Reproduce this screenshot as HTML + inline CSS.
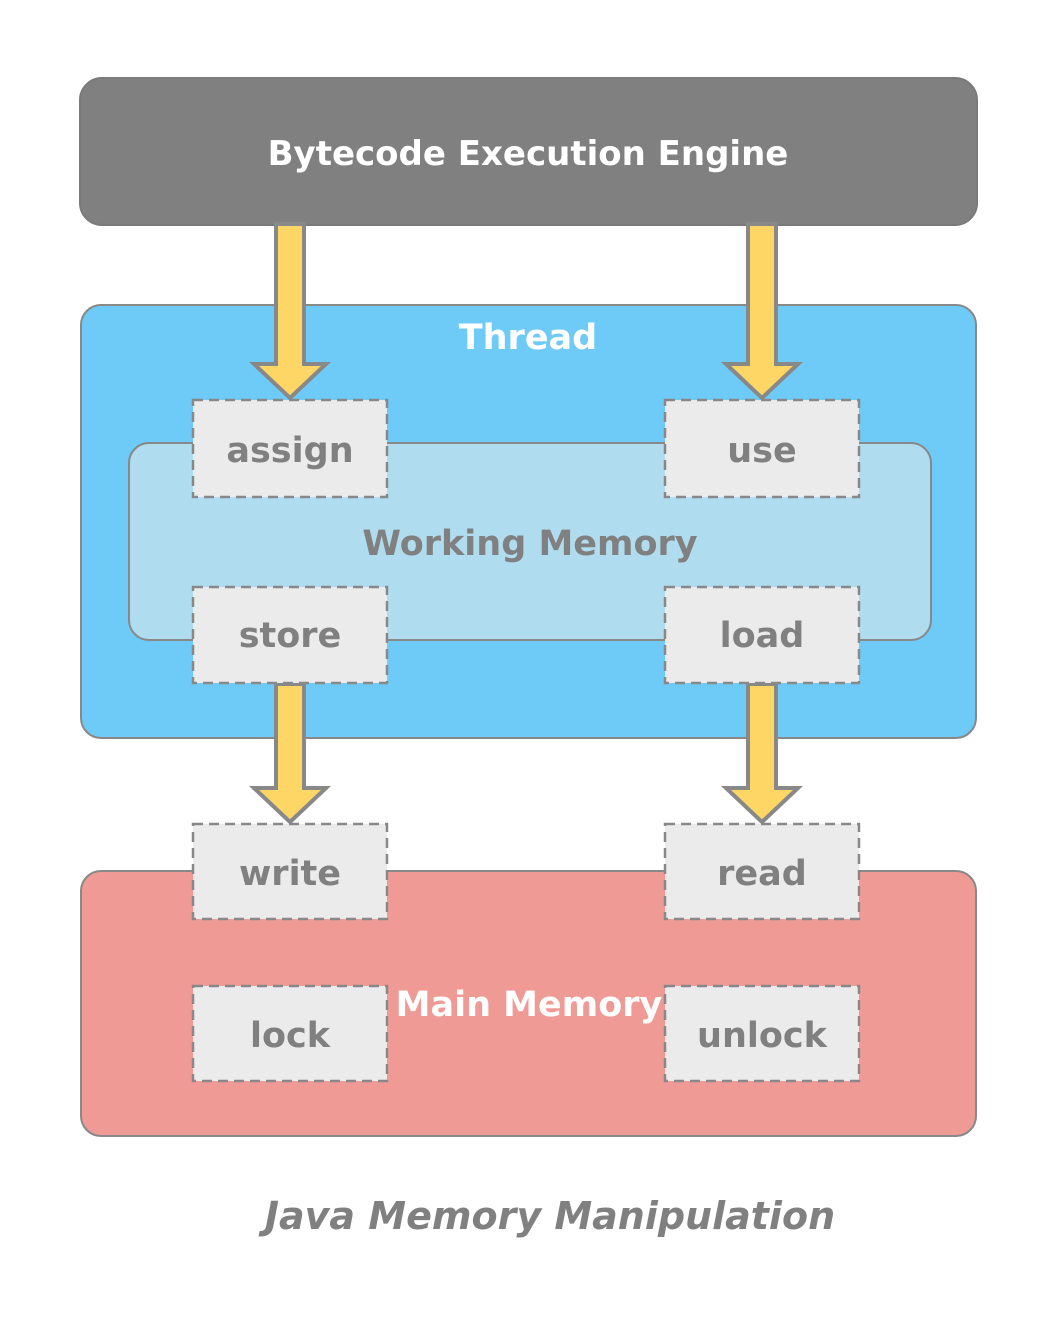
<!DOCTYPE html>
<html><head><meta charset="utf-8"><style>
html,body{margin:0;padding:0;background:#fff;}
svg{display:block;}
text{font-family:"DejaVu Sans","Liberation Sans",sans-serif;font-weight:bold;}
</style></head><body>
<svg width="1054" height="1320" viewBox="0 0 1054 1320" xmlns="http://www.w3.org/2000/svg">
<rect x="80" y="78" width="897" height="147" rx="22" fill="#808080" stroke="#7a7a7a" stroke-width="2"/>
<text x="528" y="165" font-size="34" fill="#fff" text-anchor="middle">Bytecode Execution Engine</text>
<rect x="81" y="305" width="895" height="433" rx="20" fill="#6ecbf8" stroke="#888" stroke-width="2"/>
<text x="528" y="349" font-size="35" fill="#fff" text-anchor="middle">Thread</text>
<rect x="129" y="443" width="802" height="197" rx="20" fill="#b0dcef" stroke="#888" stroke-width="2"/>
<text x="530" y="555" font-size="35" fill="#808080" text-anchor="middle">Working Memory</text>
<rect x="81" y="871" width="895" height="265" rx="20" fill="#f09a95" stroke="#888" stroke-width="2"/>
<text x="529" y="1016" font-size="35" fill="#fff" text-anchor="middle">Main Memory</text>
<g fill="#fdd666" stroke="#888" stroke-width="4" stroke-linejoin="miter">
<path d="M276,224 L304,224 L304,364 L326,364 L290,398 L254,364 L276,364 Z"/>
<path d="M748,224 L776,224 L776,364 L798,364 L762,398 L726,364 L748,364 Z"/>
<path d="M276,684 L304,684 L304,788 L326,788 L290,822 L254,788 L276,788 Z"/>
<path d="M748,684 L776,684 L776,788 L798,788 L762,822 L726,788 L748,788 Z"/>
</g>
<g fill="#ebebeb" stroke="#888" stroke-width="2.5" stroke-dasharray="10,6">
<rect x="193" y="400" width="194" height="97"/>
<rect x="665" y="400" width="194" height="97"/>
<rect x="193" y="587" width="194" height="96"/>
<rect x="665" y="587" width="194" height="96"/>
<rect x="193" y="824" width="194" height="95"/>
<rect x="665" y="824" width="194" height="95"/>
<rect x="193" y="986" width="194" height="95"/>
<rect x="665" y="986" width="194" height="95"/>
</g>
<g font-size="35" fill="#808080" text-anchor="middle">
<text x="290" y="462">assign</text>
<text x="762" y="462">use</text>
<text x="290" y="647">store</text>
<text x="762" y="647">load</text>
<text x="290" y="885">write</text>
<text x="762" y="885">read</text>
<text x="290" y="1047">lock</text>
<text x="762" y="1047">unlock</text>
</g>
<text x="550" y="1229" font-size="38" fill="#808080" text-anchor="middle" font-style="italic">Java Memory Manipulation</text>
</svg>
</body></html>
